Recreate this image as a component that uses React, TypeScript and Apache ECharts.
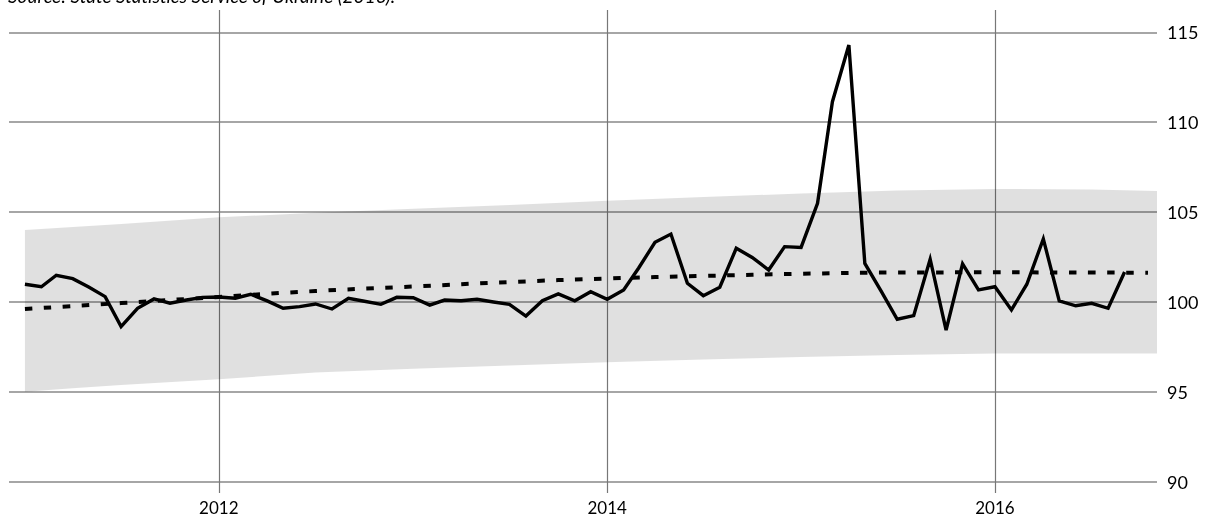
import React, { useEffect, useRef } from "react";
import * as echarts from "echarts";

// Monthly consumer price index (previous month = 100), Jan 2011 – Sep 2016
const START_YEAR = 2011;
const cpiValues = [
  100.98, 100.84, 101.48, 101.29, 100.82, 100.29, 98.62, 99.64, 100.16, 99.92, 100.1, 100.25,
  100.27, 100.2, 100.42, 100.05, 99.64, 99.73, 99.88, 99.6, 100.2, 100.03, 99.86, 100.25,
  100.23, 99.82, 100.1, 100.06, 100.14, 99.99, 99.86, 99.21, 100.06, 100.44, 100.06, 100.56,
  100.14, 100.66, 101.87, 103.31, 103.77, 101.03, 100.34, 100.81, 102.98, 102.47, 101.77, 103.07,
  103.03, 105.48, 111.14, 114.29, 102.14, 100.58, 99.03, 99.23, 102.37, 98.43, 102.11, 100.66,
  100.84, 99.55, 100.98, 103.5, 100.05, 99.78, 99.92, 99.64, 101.66,
];

// Trend (dotted line)
const trendDates = [
  "2011-01-01", "2011-07-01", "2012-01-01", "2012-07-01", "2013-01-01", "2013-07-01",
  "2014-01-01", "2014-07-01", "2015-01-01", "2015-07-01", "2016-01-01", "2016-07-01", "2016-10-15",
];
const trendValues = [99.6, 99.93, 100.27, 100.6, 100.85, 101.1, 101.3, 101.44, 101.56, 101.63, 101.64, 101.63, 101.62];

// Grey band
const bandDates = [
  "2011-01-01", "2011-04-01", "2011-07-01", "2012-01-01", "2012-07-01", "2013-01-01", "2013-07-01",
  "2014-01-01", "2014-07-01", "2015-01-01", "2015-07-01", "2016-01-01", "2016-07-01", "2016-11-01",
];
const bandUpper = [104.0, 104.17, 104.33, 104.7, 104.96, 105.18, 105.39, 105.62, 105.83, 106.03, 106.2, 106.28, 106.25, 106.17];
const bandLower = [95.0, 95.19, 95.37, 95.69, 96.06, 96.27, 96.46, 96.63, 96.79, 96.93, 97.04, 97.12, 97.13, 97.12];

const xTickDates = ["2012-01-01", "2014-01-01", "2016-01-01"];
const yTicks = [90, 95, 100, 105, 110, 115];
const X_MIN = "2010-12-02";
const X_MAX = "2016-11-01";
const sourceText = "Source: State Statistics Service of Ukraine (2016).";

const FONT = "Lato, 'Open Sans', sans-serif";

export default function App() {
  const ref = useRef<HTMLDivElement>(null);
  useEffect(() => {
    if (!ref.current) return;
    const chart = echarts.init(ref.current, undefined, { renderer: "svg" });
    const p = (s: string) => +echarts.time.parse(s);
    const months = cpiValues.map((_, i) => {
      const y = START_YEAR + Math.floor(i / 12);
      const m = (i % 12) + 1;
      return p(`${y}-${String(m).padStart(2, "0")}-01`);
    });
    const xMin = p(X_MIN);
    const xMax = p(X_MAX);
    const ticks = xTickDates.map(p);
    const bandData = bandDates.map((d, i) => [p(d), bandLower[i], bandUpper[i]]);

    chart.setOption({
      animation: false,
      graphic: [
        {
          type: "text",
          x: 8,
          y: 5,
          style: {
            text: sourceText,
            font: `italic 19px ${FONT}`,
            fill: "#000",
            verticalAlign: "bottom",
          },
        },
      ],
      grid: [
        { left: 9, right: 53, top: 32.3, bottom: 37.5 },
        { left: 9, right: 53, top: 10, bottom: 26 },
      ],
      xAxis: [
        { type: "value", gridIndex: 0, min: xMin, max: xMax, show: false },
        {
          type: "value",
          gridIndex: 1,
          min: xMin,
          max: xMax,
          axisLine: { show: false },
          axisTick: { show: false, customValues: ticks },
          axisLabel: {
            customValues: ticks,
            formatter: (v: number) => String(new Date(v).getFullYear()),
            fontFamily: FONT,
            fontSize: 17,
            color: "#000",
            margin: 6,
          },
          splitLine: { show: true, lineStyle: { color: "#777", width: 1.2 } },
        },
      ],
      yAxis: [
        {
          type: "value",
          gridIndex: 0,
          position: "right",
          min: yTicks[0],
          max: yTicks[yTicks.length - 1],
          interval: 5,
          axisLine: { show: false },
          axisTick: { show: false },
          axisLabel: {
            fontFamily: FONT,
            fontSize: 18,
            color: "#000",
            margin: 10,
            padding: [10, 0, 0, 0],
          },
          splitLine: { show: true, lineStyle: { color: "#888", width: 1.5 } },
        },
        { type: "value", gridIndex: 1, min: 0, max: 1, show: false },
      ],
      series: [
        {
          type: "custom",
          xAxisIndex: 0,
          yAxisIndex: 0,
          data: bandData,
          silent: true,
          z: 1,
          renderItem: (params: any, api: any) => {
            if (params.dataIndex !== 0) return null;
            const upper = bandData.map((r) => api.coord([r[0], r[2]]));
            const lower = bandData.map((r) => api.coord([r[0], r[1]])).reverse();
            return {
              type: "polygon",
              shape: { points: upper.concat(lower) },
              style: { fill: "rgba(0,0,0,0.12)", stroke: "none" },
            };
          },
        },
        {
          type: "line",
          xAxisIndex: 0,
          yAxisIndex: 0,
          data: trendDates.map((d, i) => [p(d), trendValues[i]]),
          smooth: true,
          symbol: "none",
          z: 3,
          lineStyle: { color: "#000", width: 4, type: [7.5, 11.5] },
          silent: true,
        },
        {
          type: "line",
          xAxisIndex: 0,
          yAxisIndex: 0,
          data: months.map((d, i) => [d, cpiValues[i]]),
          symbol: "none",
          z: 4,
          lineStyle: { color: "#000", width: 3.4, join: "miter", miterLimit: 10 },
          silent: true,
        },
      ],
    });
    return () => chart.dispose();
  }, []);
  return (
    <div
      ref={ref}
      style={{ position: "fixed", left: 0, top: 0, width: 1210, height: 519 }}
    />
  );
}
